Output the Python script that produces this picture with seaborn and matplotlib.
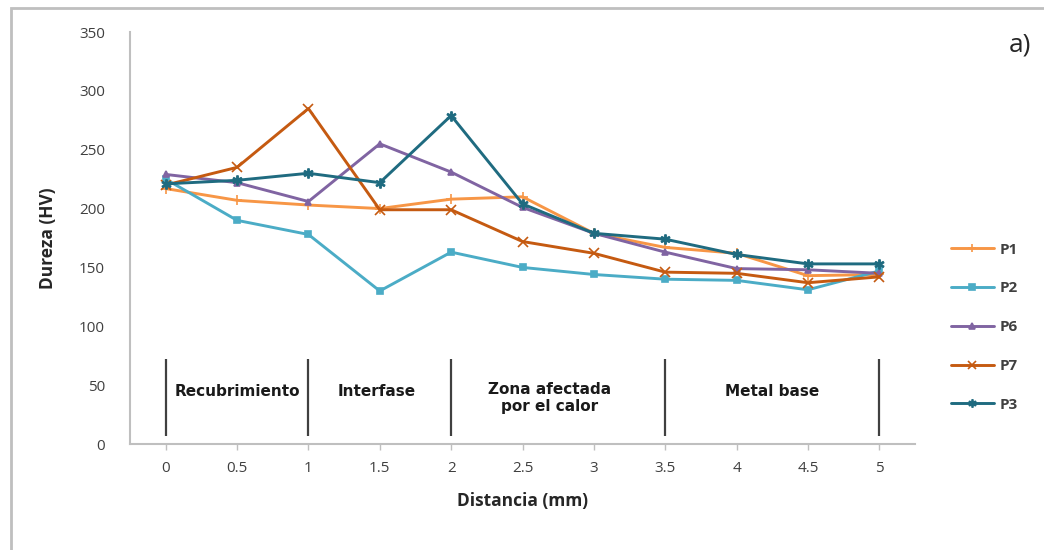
import numpy as np
import pandas as pd
import matplotlib
matplotlib.use("Agg")
import matplotlib.pyplot as plt
import seaborn as sns
from matplotlib.patches import Rectangle

# ---- data ----
distancia = [0, 0.5, 1, 1.5, 2, 2.5, 3, 3.5, 4, 4.5, 5]
p1 = [217, 207, 203, 200, 208, 210, 179, 167, 162, 143, 144]
p2 = [225, 190, 178, 130, 163, 150, 144, 140, 139, 131, 147]
p6 = [229, 222, 206, 255, 231, 201, 179, 163, 149, 148, 145]
p7 = [220, 235, 285, 199, 199, 172, 162, 146, 145, 137, 142]
p3 = [221, 224, 230, 222, 279, 204, 179, 174, 161, 153, 153]
series_names = ["P1", "P2", "P6", "P7", "P3"]
zone_labels = ["Recubrimiento", "Interfase", "Zona afectada\npor el calor", "Metal base"]
zone_bounds = [0, 1, 2, 3.5, 5]
zone_label_x = [0.5, 1.48, 2.69, 4.25]
y_ticks = [0, 50, 100, 150, 200, 250, 300, 350]
x_ticks = distancia

colors = {"P1": "#F79646", "P2": "#4BACC6", "P6": "#8064A2", "P7": "#C55A11", "P3": "#1F6B80"}
markers = {"P1": "+", "P2": "s", "P6": "^", "P7": "x", "P3": "$\u2217$"}
msizes = {"P1": 7, "P2": 5, "P6": 5, "P7": 7, "P3": 6.5}

vals = [p1, p2, p6, p7, p3]
df = pd.DataFrame({
    "Distancia": np.tile(distancia, len(series_names)),
    "Dureza": np.concatenate(vals),
    "Serie": np.repeat(series_names, len(distancia)),
})

sns.set_theme(style="white")
plt.rcParams["font.family"] = ["Open Sans", "DejaVu Sans"]

fig = plt.figure(figsize=(10.44, 5.5), dpi=100)
ax = fig.add_axes([130/1044, 1-444/550, (915-130)/1044, (444-32)/550])

for name in series_names:
    sub = df[df["Serie"] == name]
    sns.lineplot(data=sub, x="Distancia", y="Dureza", color=colors[name],
                 marker=markers[name], markersize=msizes[name], markeredgewidth=1.2,
                 markeredgecolor=colors[name], linewidth=2.1, ax=ax, label=name)

ax.set_xlim(-0.25, 5.25)
ax.set_ylim(0, 350)
ax.set_xticks(x_ticks)
ax.set_xticklabels([f"{v:g}" for v in x_ticks])
ax.set_yticks(y_ticks)

for s in ["top", "right"]:
    ax.spines[s].set_visible(False)
for s in ["left", "bottom"]:
    ax.spines[s].set_color("#BFBFBF")
    ax.spines[s].set_linewidth(1.5)

ax.tick_params(axis="x", length=4, width=1, color="#BFBFBF", direction="out",
               labelsize=11, labelcolor="#404040", pad=8, bottom=True)
ax.tick_params(axis="y", length=0, labelsize=11, labelcolor="#404040", pad=18)

ax.set_xlabel("Distancia (mm)", fontsize=12.5, fontweight="bold", color="#262626", labelpad=12)
ax.set_ylabel("Dureza (HV)", fontsize=12.5, fontweight="bold", color="#262626", labelpad=16)

# zone separators and labels
ax.vlines(zone_bounds, 7, 72, color="#404040", linewidth=1.6)
for lx, lab in zip(zone_label_x, zone_labels):
    yy = 39 if "\n" in lab else 45
    ax.text(lx, yy, lab, ha="center", va="center", fontsize=11, fontweight="bold",
            family=["Liberation Sans Narrow", "DejaVu Sans"], color="#1a1a1a", linespacing=1.1)

# legend
handles, labels = ax.get_legend_handles_labels()
leg = ax.legend(handles, labels, loc="upper left", bbox_to_anchor=(937/1044, 1-229/550),
                bbox_transform=fig.transFigure, frameon=False,
                labelspacing=1.62, handlelength=2.8, handletextpad=0.4, markerscale=0.8,
                prop={"weight": "bold", "size": 11})
for t in leg.get_texts():
    t.set_color("#404040")

fig.text(1020/1044, 1-45/550, "a)", fontsize=19, ha="center", va="center", color="#262626")

# outer frame
fig.patches.append(Rectangle((11/1044, -0.1), 1.2, 1-8/550+0.1, transform=fig.transFigure,
                             fill=False, edgecolor="#BFBFBF", linewidth=2))

fig.savefig("out.png", dpi=100)
